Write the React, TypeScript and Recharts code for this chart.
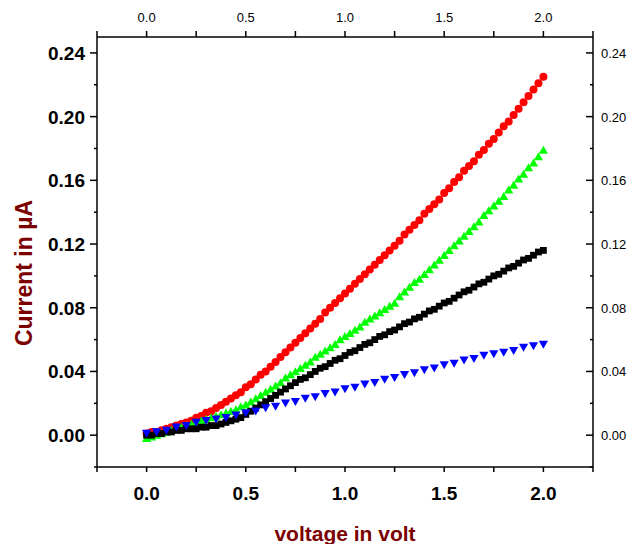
import React from 'react';
import { ScatterChart, Scatter, XAxis, YAxis } from 'recharts';

// ---- data ----
const voltageFine = [
  0.0, 0.025, 0.05, 0.075, 0.1, 0.125, 0.15, 0.175, 0.2, 0.225,
  0.25, 0.275, 0.3, 0.325, 0.35, 0.375, 0.4, 0.425, 0.45, 0.475,
  0.5, 0.525, 0.55, 0.575, 0.6, 0.625, 0.65, 0.675, 0.7, 0.725,
  0.75, 0.775, 0.8, 0.825, 0.85, 0.875, 0.9, 0.925, 0.95, 0.975,
  1.0, 1.025, 1.05, 1.075, 1.1, 1.125, 1.15, 1.175, 1.2, 1.225,
  1.25, 1.275, 1.3, 1.325, 1.35, 1.375, 1.4, 1.425, 1.45, 1.475,
  1.5, 1.525, 1.55, 1.575, 1.6, 1.625, 1.65, 1.675, 1.7, 1.725,
  1.75, 1.775, 1.8, 1.825, 1.85, 1.875, 1.9, 1.925, 1.95, 1.975, 2.0,
];
const voltageCoarse = [
  0.0, 0.05, 0.1, 0.15, 0.2, 0.25, 0.3, 0.35, 0.4, 0.45,
  0.5, 0.55, 0.6, 0.65, 0.7, 0.75, 0.8, 0.85, 0.9, 0.95,
  1.0, 1.05, 1.1, 1.15, 1.2, 1.25, 1.3, 1.35, 1.4, 1.45,
  1.5, 1.55, 1.6, 1.65, 1.7, 1.75, 1.8, 1.85, 1.9, 1.95, 2.0,
];
const redCurrent = [
  0.001, 0.002, 0.002, 0.003, 0.004, 0.005, 0.006, 0.007, 0.008, 0.009,
  0.011, 0.012, 0.014, 0.015, 0.017, 0.019, 0.021, 0.023, 0.025, 0.027,
  0.03, 0.032, 0.035, 0.038, 0.04, 0.043, 0.046, 0.049, 0.052, 0.055,
  0.058, 0.061, 0.064, 0.067, 0.07, 0.073, 0.077, 0.08, 0.083, 0.086,
  0.089, 0.092, 0.095, 0.098, 0.101, 0.104, 0.107, 0.11, 0.113, 0.116,
  0.119, 0.122, 0.126, 0.129, 0.132, 0.135, 0.139, 0.142, 0.145, 0.148,
  0.152, 0.155, 0.159, 0.162, 0.166, 0.169, 0.172, 0.176, 0.179, 0.183,
  0.186, 0.19, 0.194, 0.197, 0.201, 0.205, 0.209, 0.213, 0.217, 0.221, 0.225,
];
const greenCurrent = [
  -0.002, -0.001, 0.0, 0.001, 0.002, 0.003, 0.004, 0.005, 0.006, 0.007,
  0.008, 0.009, 0.01, 0.011, 0.012, 0.013, 0.014, 0.015, 0.016, 0.018,
  0.019, 0.021, 0.023, 0.025, 0.027, 0.029, 0.031, 0.033, 0.036, 0.038,
  0.04, 0.042, 0.044, 0.046, 0.049, 0.051, 0.053, 0.055, 0.057, 0.06,
  0.062, 0.064, 0.066, 0.068, 0.071, 0.073, 0.075, 0.077, 0.079, 0.081,
  0.083, 0.087, 0.09, 0.093, 0.096, 0.098, 0.101, 0.104, 0.107, 0.11,
  0.113, 0.116, 0.119, 0.122, 0.125, 0.128, 0.131, 0.134, 0.138, 0.141,
  0.144, 0.147, 0.15, 0.154, 0.157, 0.161, 0.164, 0.168, 0.171, 0.175, 0.179,
];
const blackCurrent = [
  0.0, 0.0, 0.001, 0.001, 0.002, 0.002, 0.003, 0.003, 0.004, 0.004,
  0.004, 0.005, 0.005, 0.006, 0.006, 0.007, 0.008, 0.009, 0.01, 0.011,
  0.013, 0.015, 0.017, 0.019, 0.021, 0.023, 0.025, 0.027, 0.029, 0.031,
  0.033, 0.035, 0.036, 0.038, 0.04, 0.042, 0.043, 0.045, 0.047, 0.048,
  0.05, 0.052, 0.053, 0.055, 0.057, 0.058, 0.06, 0.062, 0.063, 0.065,
  0.066, 0.068, 0.07, 0.071, 0.073, 0.074, 0.076, 0.078, 0.079, 0.081,
  0.083, 0.084, 0.086, 0.088, 0.09, 0.091, 0.093, 0.095, 0.096, 0.098,
  0.1, 0.101, 0.103, 0.105, 0.106, 0.108, 0.11, 0.111, 0.113, 0.115, 0.116,
];
const blueCurrent = [
  0.001, 0.002, 0.003, 0.005, 0.006, 0.008, 0.009, 0.01, 0.011, 0.0125,
  0.014, 0.015, 0.017, 0.018, 0.02, 0.021, 0.023, 0.024, 0.026, 0.027,
  0.029, 0.03, 0.032, 0.033, 0.035, 0.036, 0.038, 0.039, 0.041, 0.042,
  0.044, 0.045, 0.047, 0.048, 0.05, 0.051, 0.052, 0.053, 0.055, 0.056, 0.057,
];
const xTicks = [-0.25, 0, 0.25, 0.5, 0.75, 1.0, 1.25, 1.5, 1.75, 2.0, 2.25];
const yTicks = [-0.02, 0, 0.02, 0.04, 0.06, 0.08, 0.1, 0.12, 0.14, 0.16, 0.18, 0.2, 0.22, 0.24];
const xDomain = [-0.25, 2.25];
const yDomain = [-0.02, 0.25];
const xTitle = 'voltage in volt';
const yTitle = 'Current in µA';

const toPoints = (xs: number[], ys: number[]) => xs.map((x, i) => ({ x, y: ys[i] }));
const redData = toPoints(voltageFine, redCurrent);
const greenData = toPoints(voltageFine, greenCurrent);
const blackData = toPoints(voltageFine, blackCurrent);
const blueData = toPoints(voltageCoarse, blueCurrent);

const FONT = '"Liberation Sans", Arial, Helvetica, sans-serif';
const TITLE_COLOR = '#7b0000';

const isMajor = (v: number, step: number) => Math.abs(v / step - Math.round(v / step)) < 1e-6;

const BottomTick = (p: any) => {
  const { x, y, payload } = p;
  const v = payload.value;
  return (
    <g>
      <line x1={x} y1={y} x2={x} y2={y + 5} stroke="#000" strokeWidth={1.5} />
      {isMajor(v, 0.5) && v >= 0 && (
        <text x={x} y={y + 33} textAnchor="middle" fontFamily={FONT} fontWeight="bold" fontSize={19} fill="#000">
          {v.toFixed(1)}
        </text>
      )}
    </g>
  );
};
const TopTick = (p: any) => {
  const { x, y, payload } = p;
  const v = payload.value;
  return (
    <g>
      <line x1={x} y1={y} x2={x} y2={y - 6} stroke="#000" strokeWidth={1.5} />
      {isMajor(v, 0.5) && v >= 0 && (
        <text x={x} y={y - 15} textAnchor="middle" fontFamily={FONT} fontSize={13} fill="#000">
          {v.toFixed(1)}
        </text>
      )}
    </g>
  );
};
const LeftTick = (p: any) => {
  const { x, y, payload } = p;
  const v = payload.value;
  const major = isMajor(v, 0.04);
  return (
    <g>
      <line x1={x} y1={y} x2={x - (major ? 7 : 3)} y2={y} stroke="#000" strokeWidth={1.5} />
      {major && (
        <text x={x - 12} y={y + 7} textAnchor="end" fontFamily={FONT} fontWeight="bold" fontSize={19} fill="#000">
          {v.toFixed(2)}
        </text>
      )}
    </g>
  );
};
const RightTick = (p: any) => {
  const { x, y, payload } = p;
  const v = payload.value;
  const major = isMajor(v, 0.04);
  return (
    <g>
      <line x1={x} y1={y} x2={x - (major ? 7 : 3)} y2={y} stroke="#000" strokeWidth={1.5} />
      {major && (
        <text x={x + 8} y={y + 5} textAnchor="start" fontFamily={FONT} fontSize={13} fill="#000">
          {v.toFixed(2)}
        </text>
      )}
    </g>
  );
};

const Circle = (p: any) => <circle cx={p.cx} cy={p.cy} r={4} fill="#ff0000" />;
const Square = (p: any) => <rect x={p.cx - 3.4} y={p.cy - 3.4} width={6.8} height={6.8} fill="#000000" />;
const TriUp = (p: any) => (
  <polygon points={`${p.cx - 4.6},${p.cy + 3.7} ${p.cx + 4.6},${p.cy + 3.7} ${p.cx},${p.cy - 4.3}`} fill="#00ff00" />
);
const TriDown = (p: any) => (
  <polygon points={`${p.cx - 4.6},${p.cy - 3.7} ${p.cx + 4.6},${p.cy - 3.7} ${p.cx},${p.cy + 4.3}`} fill="#0000ff" />
);

const XTitle = () => (
  <text x={345} y={541} textAnchor="middle" fontFamily={FONT} fontWeight="bold" fontSize={21} fill={TITLE_COLOR}>
    {xTitle}
  </text>
);
const YTitle = () => (
  <text x={32} y={273} transform="rotate(-90 32 273)" textAnchor="middle" fontFamily={FONT} fontWeight="bold" fontSize={23} fill={TITLE_COLOR}>
    {yTitle}
  </text>
);

export default function App() {
  const axisLine = { stroke: '#000', strokeWidth: 1.5 };
  return (
    <div style={{ position: 'absolute', left: 0, top: 0, background: '#fff' }}>
      <ScatterChart width={633} height={544} margin={{ top: 0, right: 0, bottom: 0, left: 0 }}>
        <XAxis
          xAxisId="b" type="number" dataKey="x" domain={xDomain} allowDataOverflow ticks={xTicks}
          interval={0} tickSize={0} tickMargin={0} height={77} axisLine={axisLine} tick={BottomTick}
          label={<XTitle />}
        />
        <XAxis
          xAxisId="t" orientation="top" type="number" dataKey="x" domain={xDomain} allowDataOverflow ticks={xTicks}
          interval={0} tickSize={0} tickMargin={0} height={37} axisLine={axisLine} tick={TopTick}
        />
        <YAxis
          yAxisId="l" type="number" dataKey="y" domain={yDomain} allowDataOverflow ticks={yTicks}
          interval={0} tickSize={0} tickMargin={0} width={97} axisLine={axisLine} tick={LeftTick}
          label={<YTitle />}
        />
        <YAxis
          yAxisId="r" orientation="right" type="number" dataKey="y" domain={yDomain} allowDataOverflow ticks={yTicks}
          interval={0} tickSize={0} tickMargin={0} width={40} axisLine={axisLine} tick={RightTick}
        />
        <Scatter xAxisId="b" yAxisId="l" data={redData} shape={Circle} isAnimationActive={false} />
        <Scatter xAxisId="b" yAxisId="l" data={greenData} shape={TriUp} isAnimationActive={false} />
        <Scatter xAxisId="b" yAxisId="l" data={blackData} shape={Square} isAnimationActive={false} />
        <Scatter xAxisId="b" yAxisId="l" data={blueData} shape={TriDown} isAnimationActive={false} />
      </ScatterChart>
    </div>
  );
}
